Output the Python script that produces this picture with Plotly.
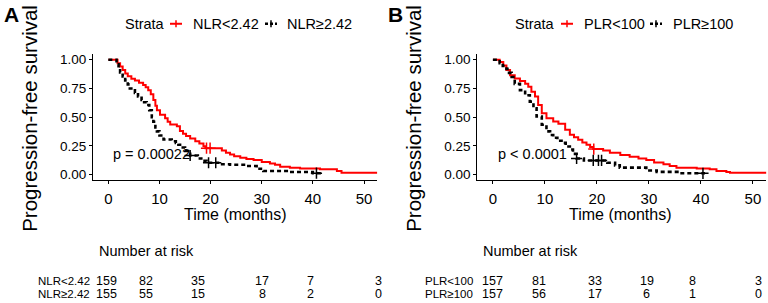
import plotly.graph_objects as go

W, H = 768, 303
FONT = "Liberation Sans, Arial, sans-serif"
RED = "#FF0000"
BLK = "#000000"

# ---------------- data ----------------
time_ticks = [0, 10, 20, 30, 40, 50]
surv_ticks = [0.0, 0.25, 0.5, 0.75, 1.0]
surv_ticklabels = ["0.00", "0.25", "0.50", "0.75", "1.00"]

# Panel A: NLR
nlr_low_t = [0, 1.8, 2.3, 2.8, 3.3, 3.8, 4.5, 5.2, 6.0, 6.8, 7.3, 7.8, 8.3, 8.8, 9.2, 9.5,
             10.1, 11.1, 11.6, 12.1, 13.4, 14.0, 14.6, 15.2, 16.0, 17.0, 17.8, 18.6, 19.0,
             22.2, 23.0, 23.8, 24.6, 25.8, 27.0, 28.4, 30.0, 31.6, 32.6, 33.6, 35.5, 37.5,
             41.4, 44.7, 45.6, 52.6]
nlr_low_s = [1.0, 0.97, 0.94, 0.91, 0.88, 0.855, 0.835, 0.82, 0.80, 0.78, 0.76, 0.735, 0.70,
             0.65, 0.60, 0.56, 0.52, 0.49, 0.46, 0.435, 0.42, 0.38, 0.355, 0.335, 0.315, 0.29,
             0.27, 0.247, 0.23, 0.21, 0.19, 0.175, 0.16, 0.146, 0.135, 0.126, 0.11, 0.097,
             0.085, 0.069, 0.06, 0.052, 0.046, 0.031, 0.015, 0.015]
nlr_low_cens_t = [19.2, 19.9]
nlr_low_cens_s = [0.23, 0.23]

nlr_high_t = [0, 1.6, 2.0, 2.3, 2.8, 3.3, 3.8, 4.2, 5.2, 5.8, 6.5, 7.0, 7.5, 8.0, 8.5, 8.8,
              9.2, 9.5, 10.0, 10.8, 12.4, 13.2, 13.7, 14.3, 15.0, 15.6, 16.0, 17.5, 18.5,
              19.2, 21.8, 23.8, 27.0, 29.0, 30.3, 35.5, 40.0, 41.7]
nlr_high_s = [1.0, 0.96, 0.92, 0.89, 0.855, 0.82, 0.785, 0.75, 0.71, 0.68, 0.65, 0.63, 0.606,
              0.56, 0.50, 0.46, 0.41, 0.376, 0.34, 0.305, 0.29, 0.275, 0.26, 0.235, 0.205,
              0.18, 0.166, 0.14, 0.12, 0.103, 0.09, 0.085, 0.074, 0.05, 0.031, 0.022, 0.012,
              0.012]
nlr_high_cens_t = [16.0, 19.6, 21.0, 40.7]
nlr_high_cens_s = [0.166, 0.103, 0.103, 0.012]

# Panel B: PLR
plr_low_t = [0, 1.3, 2.0, 2.6, 3.3, 4.2, 5.2, 6.2, 6.8, 7.4, 8.1, 8.7, 9.4, 10.3, 11.6, 12.6,
             13.9, 14.8, 15.6, 16.4, 17.2, 18.0, 18.7, 19.3, 21.2, 22.5, 24.5, 26.3, 28.0,
             29.5, 31.0, 32.8, 34.0, 35.3, 39.2, 41.7, 43.0, 44.9, 45.6, 52.6]
plr_low_s = [1.0, 0.98, 0.95, 0.91, 0.865, 0.836, 0.815, 0.79, 0.764, 0.72, 0.68, 0.606,
             0.534, 0.49, 0.462, 0.442, 0.39, 0.347, 0.325, 0.304, 0.28, 0.26, 0.24, 0.222,
             0.21, 0.19, 0.17, 0.155, 0.14, 0.126, 0.105, 0.089, 0.074, 0.06, 0.052, 0.046,
             0.031, 0.023, 0.015, 0.015]
plr_low_cens_t = [19.4]
plr_low_cens_s = [0.222]

plr_high_t = [0, 1.3, 1.9, 2.6, 3.1, 3.6, 4.2, 5.2, 6.2, 7.1, 7.8, 8.4, 9.4, 10.3, 11.0, 11.6,
              12.4, 13.2, 14.0, 14.8, 15.4, 16.1, 17.5, 22.0, 23.5, 24.4, 29.5, 31.5, 36.0, 40.8]
plr_high_s = [1.0, 0.97, 0.945, 0.92, 0.885, 0.85, 0.79, 0.735, 0.69, 0.635, 0.578, 0.505,
              0.434, 0.376, 0.345, 0.32, 0.295, 0.276, 0.245, 0.218, 0.18, 0.14, 0.123, 0.103,
              0.08, 0.06, 0.035, 0.023, 0.011, 0.011]
plr_high_cens_t = [16.1, 19.3, 20.3, 20.9, 40.4]
plr_high_cens_s = [0.14, 0.123, 0.123, 0.123, 0.011]

risk_times = [0, 10, 20, 30, 40, 50]
nlr_low_risk = [159, 82, 35, 17, 7, 3]
nlr_high_risk = [155, 55, 15, 8, 2, 0]
plr_low_risk = [157, 81, 33, 19, 8, 3]
plr_high_risk = [157, 56, 17, 6, 1, 0]

panels = [
    dict(letter="A", low_name="NLR<2.42", high_name="NLR\u22652.42", pval="p = 0.00022",
         low_t=nlr_low_t, low_s=nlr_low_s, low_ct=nlr_low_cens_t, low_cs=nlr_low_cens_s,
         high_t=nlr_high_t, high_s=nlr_high_s, high_ct=nlr_high_cens_t, high_cs=nlr_high_cens_s,
         low_risk=nlr_low_risk, high_risk=nlr_high_risk),
    dict(letter="B", low_name="PLR<100", high_name="PLR\u2265100", pval="p < 0.0001",
         low_t=plr_low_t, low_s=plr_low_s, low_ct=plr_low_cens_t, low_cs=plr_low_cens_s,
         high_t=plr_high_t, high_s=plr_high_s, high_ct=plr_high_cens_t, high_cs=plr_high_cens_s,
         low_risk=plr_low_risk, high_risk=plr_high_risk),
]

# ---------------- layout geometry (pixels) ----------------
XRANGE = [-3.0, 52.6]
YRANGE = [-0.05, 1.05]
plot_px = [(93, 377.3), (477.3, 766.4)]       # x extent of each panel
plot_top, plot_bot = 53.5, 181.1
geo = [
    dict(ylab_x=30, xtitle_x=235, letter_x=11, strata_x=123, sym1=176, name1_x=191,
         sym2=271, name2_x=285, nar_x=97, rowlab_x=92,
         risk_shift=[-1.6, -13.7, -12.5, 0.3, -1.9, 14.0]),
    dict(ylab_x=414, xtitle_x=620, letter_x=395, strata_x=513, sym1=567, name1_x=582,
         sym2=656, name2_x=671, nar_x=481, rowlab_x=475,
         risk_shift=[0, -6, -2, -2, -8, 6]),
]


def px(x):
    return x / W


def py(y):
    return 1 - y / H


fig = go.Figure()
annotations = []
shapes = []

for i, (p, g) in enumerate(zip(panels, geo)):
    xa = "x" if i == 0 else "x2"
    ya = "y" if i == 0 else "y2"
    fig.add_trace(go.Scatter(x=p["low_t"], y=p["low_s"], mode="lines", line_shape="hv",
                             line=dict(color=RED, width=2), xaxis=xa, yaxis=ya,
                             showlegend=False, hoverinfo="skip"))
    fig.add_trace(go.Scatter(x=p["high_t"], y=p["high_s"], mode="lines", line_shape="hv",
                             line=dict(color=BLK, width=2.6, dash="4px,3px"), xaxis=xa, yaxis=ya,
                             showlegend=False, hoverinfo="skip"))
    fig.add_trace(go.Scatter(x=p["low_ct"], y=p["low_cs"], mode="markers",
                             marker=dict(symbol="cross-thin", size=8,
                                         line=dict(color=RED, width=1.5)),
                             xaxis=xa, yaxis=ya, showlegend=False, hoverinfo="skip"))
    fig.add_trace(go.Scatter(x=p["high_ct"], y=p["high_cs"], mode="markers",
                             marker=dict(symbol="cross-thin", size=8,
                                         line=dict(color=BLK, width=1.5)),
                             xaxis=xa, yaxis=ya, showlegend=False, hoverinfo="skip"))

    # p-value
    annotations.append(dict(text=p["pval"], x=0.6, y=0.175, xref=xa, yref=ya,
                            xanchor="left", yanchor="middle", showarrow=False,
                            font=dict(family=FONT, size=14.5, color=BLK)))
    # panel letter
    annotations.append(dict(text="<b>%s</b>" % p["letter"], x=px(g["letter_x"]), y=py(14),
                            xref="paper", yref="paper", xanchor="center", yanchor="middle",
                            showarrow=False, font=dict(family=FONT, size=21, color=BLK)))
    # y title
    annotations.append(dict(text="Progression-free survival", x=px(g["ylab_x"]), y=py(119),
                            xref="paper", yref="paper", xanchor="center", yanchor="middle",
                            textangle=-90, showarrow=False,
                            font=dict(family=FONT, size=20.5, color=BLK)))
    # x title
    annotations.append(dict(text="Time (months)", x=px(g["xtitle_x"]), y=py(216),
                            xref="paper", yref="paper", xanchor="center", yanchor="middle",
                            showarrow=False, font=dict(family=FONT, size=16, color=BLK)))
    # legend
    for txt, xx in [("Strata", g["strata_x"]), (p["low_name"], g["name1_x"]),
                    (p["high_name"], g["name2_x"])]:
        annotations.append(dict(text=txt, x=px(xx), y=py(23), xref="paper",
                                yref="paper", xanchor="left", yanchor="middle", showarrow=False,
                                font=dict(family=FONT, size=14.5, color=BLK)))
    for cx, col, dash, w in [(g["sym1"], RED, "solid", 2), (g["sym2"], BLK, "3px,2px", 2.4)]:
        shapes.append(dict(type="line", xref="paper", yref="paper", x0=px(cx - 6), x1=px(cx + 6),
                           y0=py(23), y1=py(23), line=dict(color=col, width=w, dash=dash)))
        shapes.append(dict(type="line", xref="paper", yref="paper", x0=px(cx), x1=px(cx),
                           y0=py(19.5), y1=py(26.5), line=dict(color=col, width=1.5)))
    # risk table
    annotations.append(dict(text="Number at risk", x=px(g["nar_x"]), y=py(252), xref="paper",
                            yref="paper", xanchor="left", yanchor="middle", showarrow=False,
                            font=dict(family=FONT, size=14.5, color=BLK)))
    for row_y, name, vals in [(283, p["low_name"], p["low_risk"]),
                              (295.5, p["high_name"], p["high_risk"])]:
        annotations.append(dict(text=name, x=px(g["rowlab_x"]), y=py(row_y), xref="paper",
                                yref="paper", xanchor="right", yanchor="middle", showarrow=False,
                                font=dict(family=FONT, size=11.5, color=BLK)))
        for t, v, sh in zip(risk_times, vals, g["risk_shift"]):
            annotations.append(dict(text=str(v), x=t, y=py(row_y), xref=xa, yref="paper",
                                    xshift=sh, xanchor="center", yanchor="middle",
                                    showarrow=False,
                                    font=dict(family=FONT, size=12.5, color=BLK)))

axis_common = dict(showgrid=False, zeroline=False, showline=True, linecolor=BLK, linewidth=1,
                   ticks="outside", ticklen=3, tickcolor=BLK, tickwidth=1, mirror=False)

fig.update_layout(
    width=W, height=H, margin=dict(l=0, r=0, t=0, b=0),
    paper_bgcolor="white", plot_bgcolor="white", showlegend=False,
    xaxis=dict(domain=[px(plot_px[0][0]), px(plot_px[0][1])], range=XRANGE, tickvals=time_ticks,
               anchor="y", ticklabelstandoff=2,
               tickfont=dict(family=FONT, size=15, color=BLK), **axis_common),
    yaxis=dict(domain=[py(plot_bot), py(plot_top)], range=YRANGE, tickvals=surv_ticks,
               ticktext=surv_ticklabels, anchor="x",
               tickfont=dict(family=FONT, size=13.5, color=BLK), **axis_common),
    xaxis2=dict(domain=[px(plot_px[1][0]), px(plot_px[1][1])], range=XRANGE, tickvals=time_ticks,
                anchor="y2", ticklabelstandoff=2,
                tickfont=dict(family=FONT, size=15, color=BLK), **axis_common),
    yaxis2=dict(domain=[py(plot_bot), py(plot_top)], range=YRANGE, tickvals=surv_ticks,
                ticktext=surv_ticklabels, anchor="x2",
                tickfont=dict(family=FONT, size=13.5, color=BLK), **axis_common),
    annotations=annotations, shapes=shapes,
)

fig.write_html("out.html", config={"displayModeBar": False},
               post_script="document.body.style.margin='0';")
